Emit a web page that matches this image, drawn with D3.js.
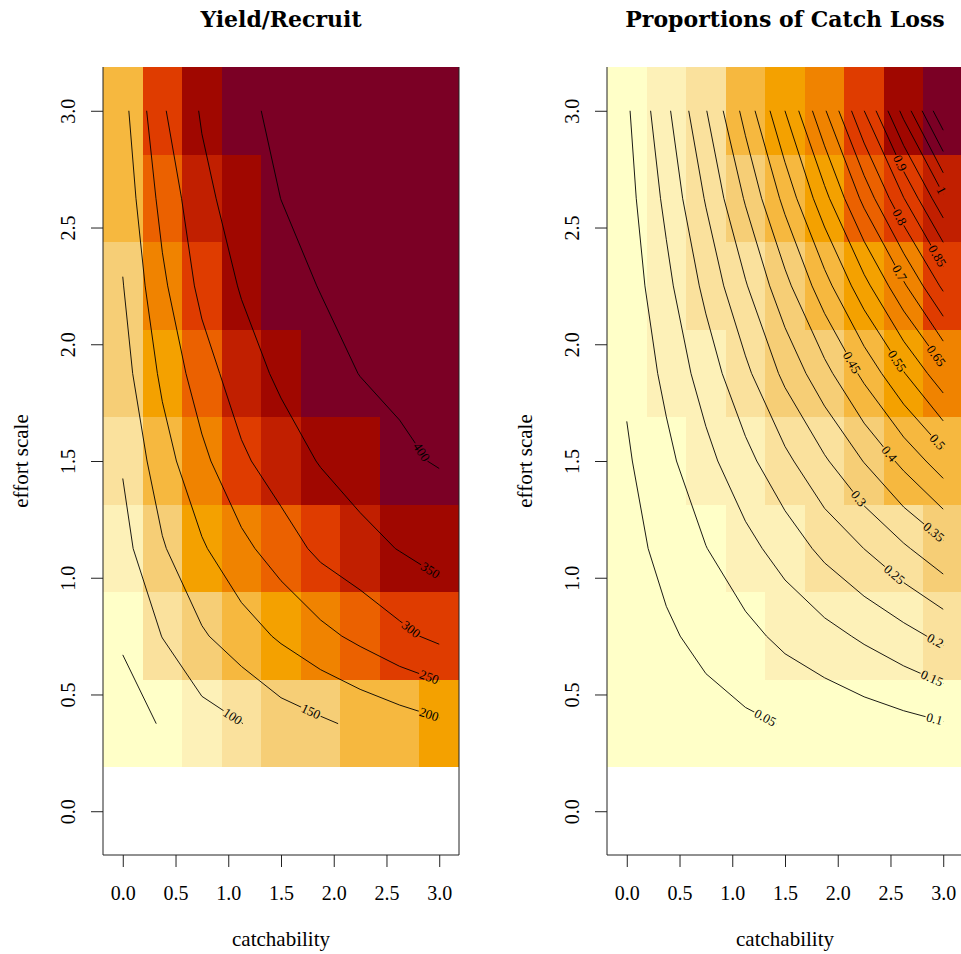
<!DOCTYPE html>
<html>
<head>
<meta charset="utf-8">
<script src="https://cdnjs.cloudflare.com/ajax/libs/d3/7.8.5/d3.min.js"></script>
<style>
  body { margin: 0; background: #fff; }
  text { font-family: "Liberation Serif", "Times New Roman", serif; fill: #000; }
  .title { font-family: "DejaVu Serif", serif; font-weight: bold; font-size: 22px; }
</style>
</head>
<body>
<svg id="chart" width="961" height="954"></svg>
<script>
const catchability = [0, 0.375, 0.75, 1.125, 1.5, 1.875, 2.25, 2.625, 3];
const effort = [0.375, 0.75, 1.125, 1.5, 1.875, 2.25, 2.625, 3];
const axisTicks = [0, 0.5, 1, 1.5, 2, 2.5, 3];

// one row per effort value, bottom row first, one column per catchability
const yieldPerRecruit = [
  [28, 54, 80, 99, 126, 142, 160, 176, 192],
  [56, 101, 144, 177, 207, 236, 262, 289, 311],
  [84, 145, 194, 237, 275, 312, 334, 352, 368],
  [104, 179, 238, 291, 327, 353, 373, 393, 403],
  [130, 210, 277, 328, 359, 382.5, 401, 408, 408.5],
  [148, 240, 314, 354, 383, 401.8, 407, 409.5, 411],
  [167, 266, 336, 375, 400.3, 407, 410, 411.5, 412.5],
  [183, 294, 355, 394, 406, 409.5, 411.5, 412.5, 413]
];
const catchLoss = [
  [0.0106, 0.0208, 0.0312, 0.0417, 0.0524, 0.0633, 0.0744, 0.0856, 0.0971],
  [0.0215, 0.0424, 0.0641, 0.0864, 0.112, 0.1333, 0.1579, 0.1832, 0.212],
  [0.0326, 0.0648, 0.0987, 0.1342, 0.1713, 0.213, 0.2504, 0.2925, 0.3362],
  [0.0438, 0.0879, 0.135, 0.1849, 0.2377, 0.2935, 0.3521, 0.4137, 0.4782],
  [0.0575, 0.1119, 0.173, 0.2386, 0.312, 0.3836, 0.4629, 0.5467, 0.6351],
  [0.069, 0.1366, 0.2127, 0.2954, 0.3846, 0.4804, 0.5827, 0.6915, 0.811],
  [0.0805, 0.162, 0.2542, 0.3551, 0.465, 0.5839, 0.715, 0.8483, 0.99],
  [0.092, 0.1883, 0.2973, 0.4179, 0.5502, 0.6941, 0.8496, 1.0168, 1.1956]
];
const yieldLevels = [50, 100, 150, 200, 250, 300, 350, 400];
const lossLevels = [0.05, 0.1, 0.15, 0.2, 0.25, 0.3, 0.35, 0.4, 0.45, 0.5, 0.55, 0.6,
  0.65, 0.7, 0.75, 0.8, 0.85, 0.9, 0.95, 1, 1.05, 1.1, 1.15];

const heatColors = ['#FFFFC8', '#FDF1B8', '#FAE19D', '#F6CE76', '#F6B83F', '#F4A100',
  '#F08300', '#EB6100', '#DF3C00', '#C11F00', '#A00700', '#7B0025'];

const svg = d3.select('#chart');
const plotTop = 67, plotBottom = 855, plotWidth = 356;

// cut the closed d3 contour rings at the padded border, keep the open lines
function splitRing(ring, n, m) {
  const pts = ring.slice(0, -1);
  const inside = p => p[0] > 0 && p[0] < n && p[1] > 0 && p[1] < m;
  const start = pts.findIndex(p => !inside(p));
  if (start < 0) return [ring];
  const out = [];
  let cur = [];
  for (let k = 1; k <= pts.length; k++) {
    const p = pts[(start + k) % pts.length];
    if (inside(p)) cur.push(p);
    else { if (cur.length > 1) out.push(cur); cur = []; }
  }
  return out;
}

function corners(c, w, h, ang) {
  const a = ang * Math.PI / 180, cs = Math.cos(a), sn = Math.sin(a);
  return [[-w / 2, -h / 2], [w / 2, -h / 2], [w / 2, h / 2], [-w / 2, h / 2]]
    .map(([u, v]) => [c[0] + u * cs - v * sn, c[1] + u * sn + v * cs]);
}

function overlap(A, B) {
  for (const P of [A, B]) {
    for (let k = 0; k < 4; k++) {
      const p1 = P[k], p2 = P[(k + 1) % 4];
      const nx = p2[1] - p1[1], ny = p1[0] - p2[0];
      const pa = A.map(p => p[0] * nx + p[1] * ny);
      const pb = B.map(p => p[0] * nx + p[1] * ny);
      if (Math.max(...pa) < Math.min(...pb) || Math.max(...pb) < Math.min(...pa)) return false;
    }
  }
  return true;
}

// label sits on a straight piece that ends at a vertex, tried from the right-hand end
function placeLabel(pts, w, h, placed, bounds) {
  if (pts[0][0] > pts[pts.length - 1][0]) pts = pts.slice().reverse();
  const cum = [0];
  for (let k = 1; k < pts.length; k++) {
    cum.push(cum[k - 1] + Math.hypot(pts[k][0] - pts[k - 1][0], pts[k][1] - pts[k - 1][1]));
  }
  const at = s => {
    let k = 1;
    while (k < cum.length - 1 && cum[k] < s) k++;
    const t = (s - cum[k - 1]) / ((cum[k] - cum[k - 1]) || 1);
    return [pts[k - 1][0] + t * (pts[k][0] - pts[k - 1][0]), pts[k - 1][1] + t * (pts[k][1] - pts[k - 1][1])];
  };
  let tries = 0;
  for (let k = pts.length - 1; k >= 1 && tries < 3; k--) {
    const s1 = cum[k], s0 = s1 - w - 2;
    if (s0 < 0) break;
    if (cum[k - 1] > s0 + 0.01) continue;
    tries++;
    const a = at(s0), b = at(s1);
    const c = [(a[0] + b[0]) / 2, (a[1] + b[1]) / 2];
    let ang = Math.atan2(b[1] - a[1], b[0] - a[0]) * 180 / Math.PI;
    if (ang > 90) ang -= 180;
    if (ang < -90) ang += 180;
    const box = corners(c, w + 2, h, ang);
    if (box.some(p => p[0] < bounds[0] || p[0] > bounds[1] || p[1] < bounds[2] || p[1] > bounds[3])) continue;
    const room = corners(c, 2 * w + 6, 32, ang);
    if (placed.some(q => overlap(q, room))) continue;
    return { c, ang, room };
  }
  return null;
}

function drawPanel({ id, left, title, z, levels }) {
  const n = catchability.length, m = effort.length;
  const dx = catchability[1] - catchability[0];
  const dy = effort[1] - effort[0];

  const x = d3.scaleLinear()
    .domain([catchability[0] - dx / 2, catchability[n - 1] + dx / 2])
    .range([left, left + plotWidth]);
  const y = d3.scaleLinear()
    .domain([-dy / 2, effort[m - 1] + dy / 2])
    .range([plotBottom, plotTop]);

  const g = svg.append('g').attr('class', 'panel-' + id);
  const values = z.flat();
  const color = d3.scaleQuantize().domain(d3.extent(values)).range(heatColors);

  const cells = [];
  z.forEach((row, j) => row.forEach((v, i) => cells.push({ i, j, v })));

  g.selectAll('rect.cell')
    .data(cells)
    .enter()
    .append('rect')
    .attr('class', 'cell')
    .attr('x', d => x(catchability[d.i] - dx / 2))
    .attr('y', d => y(effort[d.j] + dy / 2))
    .attr('width', d => x(catchability[d.i] + dx / 2) - x(catchability[d.i] - dx / 2))
    .attr('height', d => y(effort[d.j] - dy / 2) - y(effort[d.j] + dy / 2))
    .attr('fill', d => color(d.v))
    .attr('shape-rendering', 'crispEdges');

  // frame
  g.append('path')
    .attr('d', `M${left},${plotTop}V${plotBottom}H${left + plotWidth}V${plotTop}`)
    .attr('fill', 'none')
    .attr('stroke', '#222')
    .attr('stroke-width', 1);

  // axes
  const xAxis = g.append('g')
    .attr('transform', `translate(0,${plotBottom})`)
    .call(d3.axisBottom(x).tickValues(axisTicks).tickFormat(d3.format('.1f')).tickSize(12).tickSizeOuter(0).tickPadding(19));
  xAxis.select('.domain').remove();
  xAxis.selectAll('text').attr('font-size', 20).attr('font-family', null);

  const yAxis = g.append('g')
    .attr('transform', `translate(${left},0)`)
    .call(d3.axisLeft(y).tickValues(axisTicks).tickFormat(d3.format('.1f')).tickSize(12).tickSizeOuter(0));
  yAxis.select('.domain').remove();
  yAxis.selectAll('text')
    .attr('transform', 'rotate(-90)')
    .attr('x', 0)
    .attr('y', -28)
    .attr('dy', 0)
    .attr('text-anchor', 'middle')
    .attr('font-size', 20)
    .attr('font-family', null);
  g.selectAll('.tick line').attr('stroke', '#222');

  g.append('text')
    .attr('x', left + plotWidth / 2)
    .attr('y', 946)
    .attr('text-anchor', 'middle')
    .attr('font-size', 21)
    .text('catchability');

  g.append('text')
    .attr('transform', `translate(${left - 75},${(plotTop + plotBottom) / 2}) rotate(-90)`)
    .attr('text-anchor', 'middle')
    .attr('font-size', 21)
    .text('effort scale');

  g.append('text')
    .attr('class', 'title')
    .attr('x', left + plotWidth / 2)
    .attr('y', 27)
    .attr('text-anchor', 'middle')
    .text(title);

  // contours on the same grid
  const gx = d3.scaleLinear().domain([0.5, n - 0.5]).range([catchability[0], catchability[n - 1]]);
  const gy = d3.scaleLinear().domain([0.5, m - 0.5]).range([effort[0], effort[m - 1]]);
  const contours = d3.contours().size([n, m]).thresholds(levels)(values);

  const lines = [];
  contours.forEach(c => c.coordinates.forEach(poly => poly.forEach(ring => {
    splitRing(ring, n, m).forEach(pts => {
      lines.push({ value: c.value, pts: pts.map(p => [x(gx(p[0])), y(gy(p[1]))]) });
    });
  })));

  const mask = svg.append('defs').append('mask').attr('id', 'gap-' + id)
    .attr('maskUnits', 'userSpaceOnUse')
    .attr('x', left - 5).attr('y', plotTop - 5).attr('width', plotWidth + 10).attr('height', plotBottom - plotTop + 10);
  mask.append('rect')
    .attr('x', left - 5).attr('y', plotTop - 5)
    .attr('width', plotWidth + 10).attr('height', plotBottom - plotTop + 10)
    .attr('fill', '#fff');

  const lineGen = d3.line();
  g.append('g')
    .attr('mask', `url(#gap-${id})`)
    .selectAll('path')
    .data(lines)
    .enter()
    .append('path')
    .attr('d', d => lineGen(d.pts))
    .attr('fill', 'none')
    .attr('stroke', '#000')
    .attr('stroke-width', 0.9);

  const labelLayer = g.append('g');
  const placed = [];
  const bounds = [left, left + plotWidth, plotTop, plotBottom];
  lines.forEach(line => {
    if (line.pts.length < 3) return;
    const label = labelLayer.append('text')
      .attr('font-size', 13)
      .attr('text-anchor', 'middle')
      .attr('dy', '0.32em')
      .text(String(+line.value.toFixed(2)));
    const w = label.node().getComputedTextLength();
    const spot = placeLabel(line.pts, w, 10, placed, bounds);
    if (!spot) { label.remove(); return; }
    placed.push(spot.room);
    label.attr('transform', `translate(${spot.c[0]},${spot.c[1]}) rotate(${spot.ang})`);
    mask.append('rect')
      .attr('x', -w / 2 - 1).attr('y', -5)
      .attr('width', w + 2).attr('height', 10)
      .attr('transform', `translate(${spot.c[0]},${spot.c[1]}) rotate(${spot.ang})`)
      .attr('fill', '#000');
  });
}

drawPanel({ id: 'ypr', left: 103, title: 'Yield/Recruit', z: yieldPerRecruit, levels: yieldLevels });
drawPanel({ id: 'loss', left: 607, title: 'Proportions of Catch Loss', z: catchLoss, levels: lossLevels });
</script>
</body>
</html>
